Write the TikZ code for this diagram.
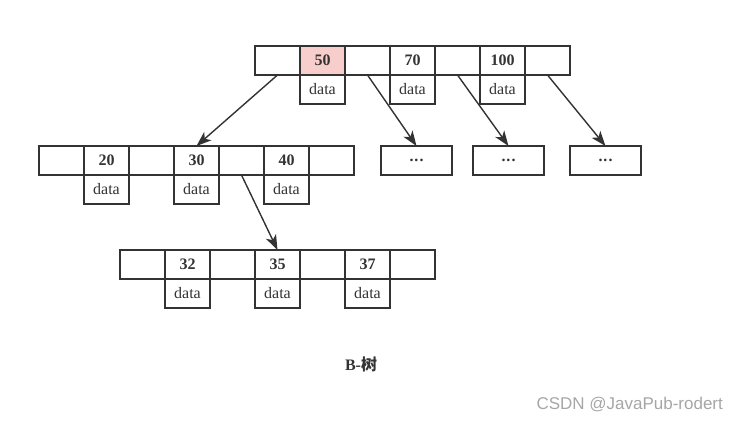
\documentclass[tikz,border=0pt]{standalone}
\usepackage{fontspec}
\setmainfont{Liberation Serif}
\newfontfamily\cjkfont{Noto Sans CJK SC}
\newfontfamily\markfont{Liberation Sans}
\usepackage{xcolor}
\definecolor{keypink}{RGB}{248, 206, 204}
\definecolor{ink}{RGB}{51, 51, 51}
\usetikzlibrary{
    arrows.meta,
    positioning
}

\begin{document}
\begin{tikzpicture}[
    x=1pt, y=-1pt,
    cell/.style={draw=ink, line width=1.4pt, minimum width=45pt, minimum height=29pt, inner sep=0pt, outer sep=0pt, text=ink, font=\fontsize{16}{18}\selectfont\bfseries},
    keycell/.style={cell, fill=keypink},
    datacell/.style={cell, font=\fontsize{16}{18}\selectfont},
    dotbox/.style={cell, minimum width=71pt},
    link/.style={draw=ink, line width=1.4pt, -{Stealth[length=15pt, width=11pt, inset=4pt]}}
]
\useasboundingbox (0,0) rectangle (739,424);

% ==================== ROOT NODE ====================
\foreach \i/\k/\s in {1/{}/cell, 2/50/keycell, 3/{}/cell, 4/70/cell, 5/{}/cell, 6/100/cell, 7/{}/cell}
    \node[\s] (t\i) at ({277.5+45*(\i-1)}, 60.5) {\k};

\node[datacell, below=0pt of t2] (t2d) {data};
\node[datacell, below=0pt of t4] (t4d) {data};
\node[datacell, below=0pt of t6] (t6d) {data};

% ==================== SECOND LEVEL ====================
\foreach \i/\k in {1/{}, 2/20, 3/{}, 4/30, 5/{}, 6/40, 7/{}}
    \node[cell] (m\i) at ({61.5+45*(\i-1)}, 160.5) {\k};

\node[datacell, below=0pt of m2] (m2d) {data};
\node[datacell, below=0pt of m4] (m4d) {data};
\node[datacell, below=0pt of m6] (m6d) {data};

\node[dotbox] (d1) at (416.5, 160.5) {.\kern1pt.\kern1pt.};
\node[dotbox] (d2) at (508.5, 160.5) {.\kern1pt.\kern1pt.};
\node[dotbox] (d3) at (605.5, 160.5) {.\kern1pt.\kern1pt.};

% ==================== THIRD LEVEL ====================
\foreach \i/\k in {1/{}, 2/32, 3/{}, 4/35, 5/{}, 6/37, 7/{}}
    \node[cell] (b\i) at ({142.5+45*(\i-1)}, 264.5) {\k};

\node[datacell, below=0pt of b2] (b2d) {data};
\node[datacell, below=0pt of b4] (b4d) {data};
\node[datacell, below=0pt of b6] (b6d) {data};

% ==================== POINTERS ====================
\draw[link] (t1.south) -- (m4.north);
\draw[link] (t3.south) -- (d1.north);
\draw[link] (t5.south) -- (d2.north);
\draw[link] (t7.south) -- (d3.north);
\draw[link] (m5.south) -- (b4.north);

% ==================== CAPTION ====================
\node[text=ink, font=\fontsize{16}{18}\selectfont\bfseries] (title) at (361, 364) {B-{\cjkfont 树}};
\node[anchor=west, text=black!35, font=\markfont\fontsize{17}{19}\selectfont] (mark) at (533, 405) {CSDN @JavaPub-rodert};

\end{tikzpicture}
\end{document}
